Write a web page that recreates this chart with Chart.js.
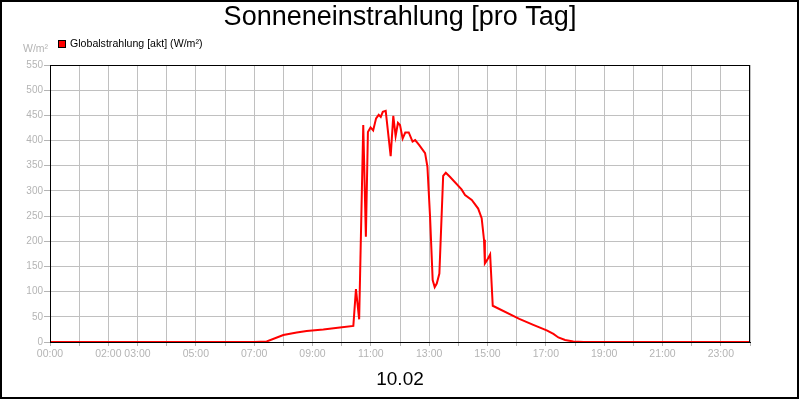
<!DOCTYPE html>
<html>
<head>
<meta charset="utf-8">
<script src="https://cdn.jsdelivr.net/npm/chart.js@4/dist/chart.umd.min.js"></script>
<style>
  html, body { margin: 0; padding: 0; background: #fff; }
  #wrap { width: 800px; height: 400px; }
</style>
</head>
<body>
<div id="wrap"><canvas id="chart" width="800" height="400"></canvas></div>
<script>
// Daten
var chartTitle = 'Sonneneinstrahlung [pro Tag]';
var dayLabel = '10.02';
var seriesName = 'Globalstrahlung [akt] (W/m²)';
var unitLabel = 'W/m²';

var hours = [0, 7.0, 7.43, 8.0, 8.46, 8.8, 9.37, 9.94, 10.4, 10.49, 10.6, 10.74, 10.83, 10.9, 10.99,
  11.08, 11.18, 11.27, 11.34, 11.41, 11.51, 11.68, 11.77, 11.85, 11.93, 12.0, 12.09, 12.18, 12.3,
  12.43, 12.52, 12.66, 12.86, 12.94, 13.03, 13.12, 13.19, 13.26, 13.35, 13.48, 13.57, 13.71, 14.11,
  14.23, 14.46, 14.68, 14.8, 14.88, 14.91, 14.99, 15.09, 15.18, 16.09, 16.57, 17.03, 17.26, 17.43,
  17.66, 17.94, 18.3, 24];
var irradiance = [0, 0, 1, 14, 19, 22, 25, 29, 32, 105, 45, 431, 209, 417, 426,
  420, 444, 451, 447, 457, 459, 369, 449, 409, 435, 431, 404, 416, 416,
  398, 401, 391, 375, 348, 249, 123, 109, 116, 136, 330, 336, 328, 303,
  292, 282, 265, 246, 203, 156, 163, 174, 72, 46, 34, 23, 16, 9,
  4, 1, 0, 0];
var tickHours = [0, 2, 3, 5, 7, 9, 11, 13, 15, 17, 19, 21, 23];
var tickLabels = ['00:00', '02:00', '03:00', '05:00', '07:00', '09:00', '11:00', '13:00', '15:00', '17:00', '19:00', '21:00', '23:00'];

var font = '"Liberation Sans", Arial, sans-serif';
var gray = '#b4b4b4';

var points = [];
for (var i = 0; i < hours.length; i++) {
  points.push({ x: hours[i], y: irradiance[i] });
}

// Rahmen, Legende, Einheit
var extras = {
  id: 'extras',
  afterDraw: function (chart) {
    var ctx = chart.ctx;
    var a = chart.chartArea;
    ctx.save();
    ctx.strokeStyle = '#000';
    ctx.lineWidth = 1;
    ctx.strokeRect(a.left + 0.5, a.top + 0.5, a.right - a.left - 1, a.bottom - a.top);
    ctx.lineWidth = 2;
    ctx.strokeRect(1, 1, 797, 397);

    ctx.fillStyle = '#ff0000';
    ctx.fillRect(58, 40, 8, 8);
    ctx.lineWidth = 1;
    ctx.strokeRect(58.5, 40.5, 7, 7);
    ctx.fillStyle = '#000';
    ctx.font = '10.6px ' + font;
    ctx.textBaseline = 'middle';
    ctx.textAlign = 'left';
    ctx.fillText(seriesName, 70, 44);

    ctx.fillStyle = gray;
    ctx.font = '10.5px ' + font;
    ctx.fillText(unitLabel, 23, 49);
    ctx.restore();
  }
};

new Chart(document.getElementById('chart'), {
  type: 'line',
  data: {
    datasets: [{
      label: seriesName,
      data: points,
      borderColor: '#ff0000',
      backgroundColor: '#ff0000',
      borderWidth: 2,
      pointRadius: 0,
      tension: 0,
      fill: false
    }]
  },
  options: {
    responsive: false,
    animation: false,
    layout: { padding: 0 },
    plugins: {
      legend: { display: false },
      tooltip: { enabled: false },
      title: {
        display: true,
        text: chartTitle,
        color: '#000',
        font: { family: font, size: 27, weight: 'normal' },
        padding: { top: 1, bottom: 31.6 }
      }
    },
    scales: {
      x: {
        type: 'linear',
        min: 0,
        max: 24,
        afterFit: function (s) { s.height = 58; },
        afterBuildTicks: function (s) {
          var t = [];
          for (var h = 0; h <= 24; h++) t.push({ value: h });
          s.ticks = t;
        },
        ticks: {
          autoSkip: false,
          maxRotation: 0,
          color: gray,
          font: { family: font, size: 10.5 },
          padding: 2,
          callback: function (v) {
            var k = tickHours.indexOf(v);
            return k >= 0 ? tickLabels[k] : '';
          }
        },
        grid: { color: '#c0c0c0', tickColor: gray, tickLength: 4, lineWidth: 1 },
        border: { color: '#000', width: 1 },
        title: {
          display: true,
          text: dayLabel,
          color: '#000',
          font: { family: font, size: 19 },
          padding: { top: 0, bottom: 9 }
        }
      },
      y: {
        min: 0,
        max: 550,
        afterFit: function (s) { s.width = 50; },
        ticks: {
          stepSize: 50,
          color: gray,
          font: { family: font, size: 10 },
          padding: 1
        },
        grid: { color: '#c0c0c0', tickColor: gray, tickLength: 6, lineWidth: 1 },
        border: { color: '#000', width: 1 }
      },
      // leere rechte Achse, nur als Rand
      yRight: {
        position: 'right',
        min: 0,
        max: 550,
        afterFit: function (s) { s.width = 50; },
        ticks: { display: false },
        grid: { display: false, drawTicks: false },
        border: { display: false }
      }
    }
  },
  plugins: [extras]
});
</script>
</body>
</html>
